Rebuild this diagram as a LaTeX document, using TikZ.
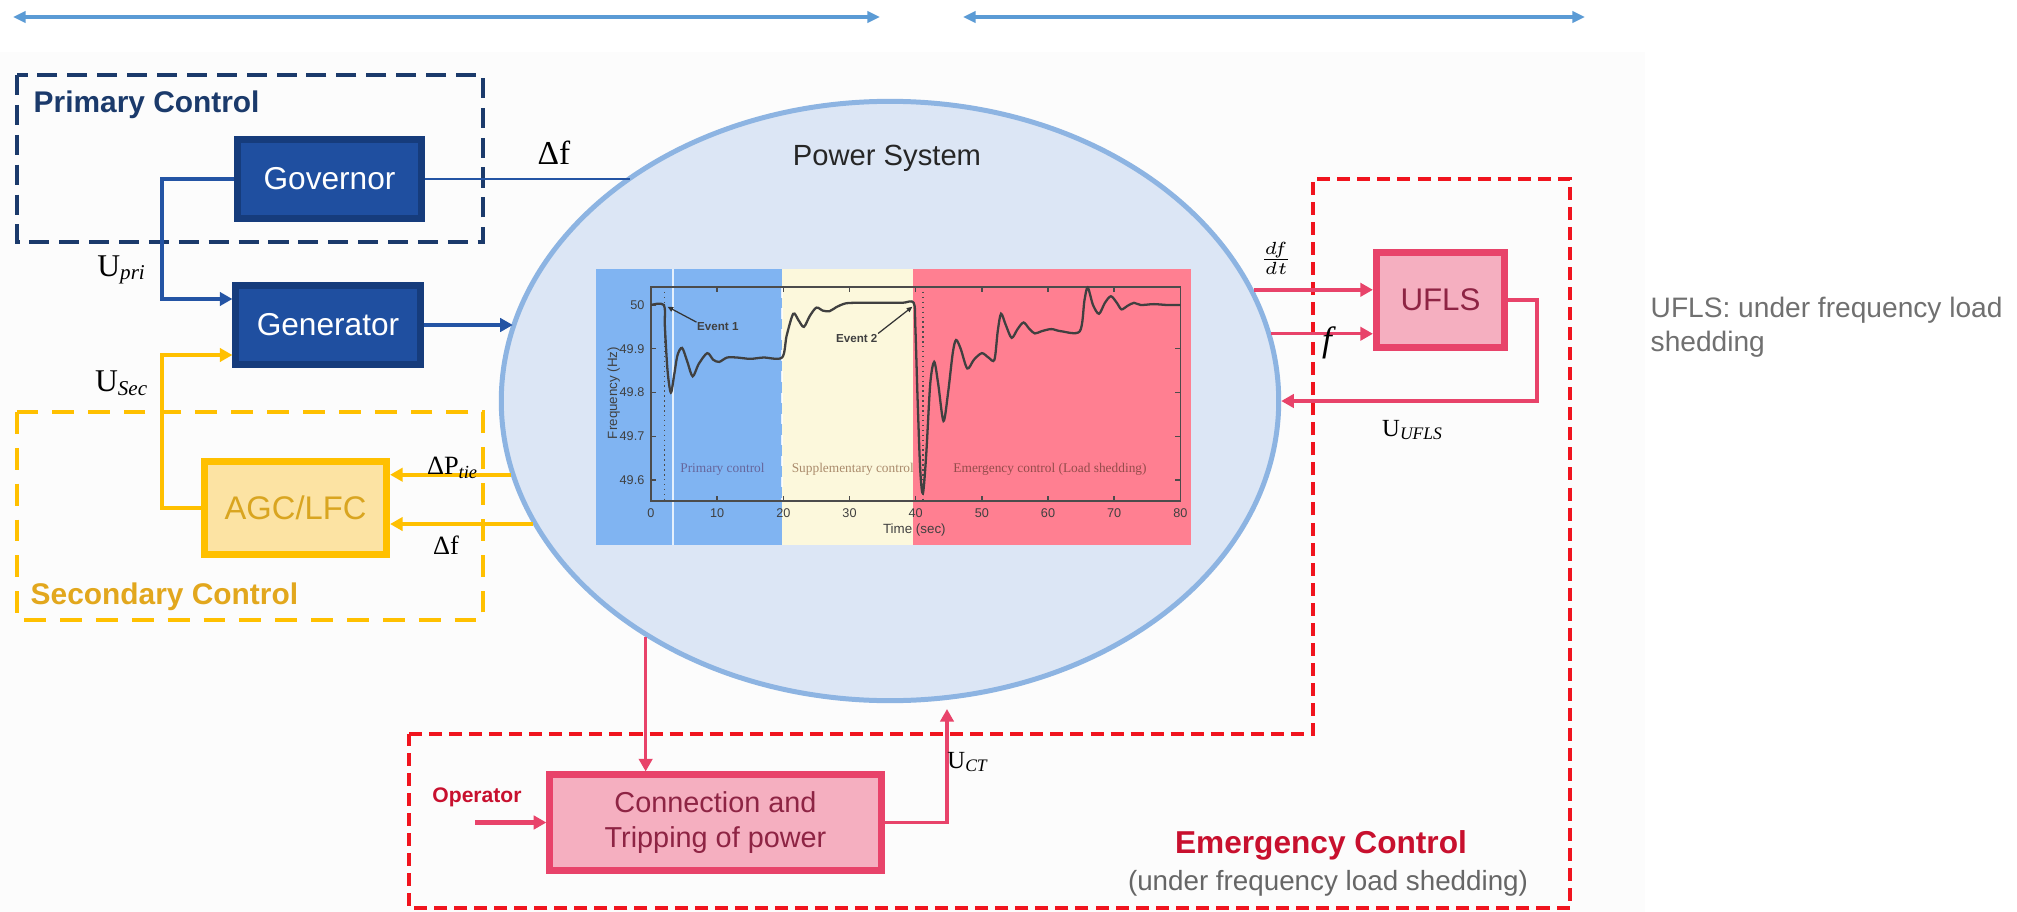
\documentclass[tikz,border=0pt]{standalone}
\usepackage{fontspec}
\setmainfont{Liberation Sans}
\setsansfont{Liberation Sans}
\newfontfamily\tms{Liberation Serif}
\usetikzlibrary{shapes.geometric,arrows.meta,calc}

\definecolor{navy}{HTML}{1B3A6B}
\definecolor{govfill}{HTML}{1F4FA0}
\definecolor{govborder}{HTML}{163C7C}
\definecolor{blueline}{HTML}{2454A4}
\definecolor{topblue}{HTML}{5B9BD5}
\definecolor{ellfill}{HTML}{DCE6F5}
\definecolor{ellborder}{HTML}{8DB4E2}
\definecolor{amber}{HTML}{FFC000}
\definecolor{agcfill}{HTML}{FCE3A3}
\definecolor{agctext}{HTML}{D9A520}
\definecolor{sectext}{HTML}{E2A71D}
\definecolor{alarm}{HTML}{F0141E}
\definecolor{pinkfill}{HTML}{F5AFC0}
\definecolor{pinkborder}{HTML}{E8436A}
\definecolor{pinktext}{HTML}{8E2444}
\definecolor{emtext}{HTML}{C8102E}
\definecolor{notegray}{HTML}{707070}
\definecolor{chblue}{HTML}{80B4F2}
\definecolor{chyel}{HTML}{FCF8DC}
\definecolor{chred}{HTML}{FF7F91}
\definecolor{paper}{HTML}{FCFCFC}

\tikzset{
  tip/.style={-{Triangle[length=3.6pt,width=3.8pt]}},
  toparrow/.style={topblue,line width=0.9pt,{Triangle[length=3.6pt,width=3.2pt]}-{Triangle[length=3.6pt,width=3.2pt]}},
  govblk/.style={draw=govborder,fill=govfill,line width=2pt,inner sep=0pt,
    minimum width=1.84cm,minimum height=0.79cm,text=white,font=\fontsize{9}{11}\selectfont},
  agcblk/.style={draw=amber,fill=agcfill,line width=2pt,inner sep=0pt,
    minimum width=1.82cm,minimum height=0.93cm,text=agctext,font=\fontsize{9.3}{11}\selectfont},
  pinkblk/.style={draw=pinkborder,fill=pinkfill,line width=2pt,inner sep=0pt,
    text=pinktext,font=\fontsize{8.9}{10}\selectfont},
  bluecon/.style={blueline,line width=0.9pt},
  yelcon/.style={amber,line width=0.9pt},
  redcon/.style={pinkborder,line width=0.9pt},
  group/.style={line width=1.4pt},
  sym/.style={inner sep=0pt,font=\tms\fontsize{9}{10}\selectfont},
  chlbl/.style={inner sep=0pt,font=\fontsize{3.6}{4}\selectfont,text=black!75},
  chreg/.style={inner sep=0pt,font=\tms\fontsize{3.8}{4}\selectfont},
  chax/.style={black!70,line width=0.4pt}
}

\begin{document}
\begin{tikzpicture}[x=0.01cm,y=-0.01cm]
\useasboundingbox (0,0) rectangle (2017,912);
\fill[white] (0,0) rectangle (2017,912);
\fill[paper] (0,52) rectangle (1645,912);

% time-scale arrows along the top
\coordinate (a1) at (13,17);  \coordinate (a2) at (880,17);
\coordinate (b1) at (963,17); \coordinate (b2) at (1585,17);
\draw[toparrow] (a1) -- (a2);
\draw[toparrow] (b1) -- (b2);

% the power system
\node[ellipse,draw=ellborder,fill=ellfill,line width=1.42pt,inner sep=0pt,
      minimum width=7.77cm,minimum height=5.99cm] (ps) at (890,401) {};
\node[anchor=base,inner sep=0pt,font=\fontsize{8.3}{10}\selectfont,text=black!85]
      (pstitle) at (887,165) {Power System};

% frequency response chart
\fill[chblue] (596,269) rectangle (782,545);
\fill[chyel]  (782,269) rectangle (913,545);
\fill[chred]  (913,269) rectangle (1191,545);
\draw[white,line width=0.5pt,opacity=0.8] (673,269) -- (673,545);
\draw[white,line width=0.3pt,dashed,opacity=0.8] (782,287) -- (782,501);
\begin{scope}[shift={(651,305)},x=0.066125cm,y=0.04375cm]
  \draw[chax] (0,4.11) rectangle (80,-44.8);
  \foreach \t in {0,10,...,80} {
    \draw[chax] (\t,-44.8) -- ++(0,1.2);
    \draw[chax] (\t,4.11) -- ++(0,-1.2);
    \node[chlbl] at (\t,-47.6) {\t};
  }
  \foreach \d/\l in {0/50,-10/49.9,-20/49.8,-30/49.7,-40/49.6} {
    \draw[chax] (0,\d) -- ++(0.8,0);
    \draw[chax] (80,\d) -- ++(-0.8,0);
    \node[chlbl,anchor=east] at (-0.9,\d) {\l};
  }
  \draw[black!70,line width=0.4pt,densely dotted] (2,4.11) -- (2,-44.8);
  \draw[black!70,line width=0.4pt,densely dotted] (41.1,4.11) -- (41.1,-44.8);
  \draw[black!75,line width=0.65pt] plot[smooth,tension=0.5] coordinates {
    (0,0) (1.95,0) (2.1,-5) (2.5,-15) (3.0,-20) (3.5,-16) (4.0,-11.5) (4.7,-9.8)
    (5.5,-13) (6.3,-16.3) (7.2,-13.5) (8.5,-11) (9.4,-12.5) (10.3,-13) (11.5,-12)
    (13,-12) (15,-12.3) (17,-12) (19.8,-12)
    (20.5,-7) (21.5,-2) (22.3,-3.5) (23.1,-5) (24,-2.5) (25,-0.6) (26,-1.3)
    (27,-1.4) (28,-0.5) (29.5,0.4) (32,0.5) (35,0.5) (38,0.5) (39.7,0.5)
    (39.95,-5) (40.3,-22) (40.7,-38) (41.1,-43) (41.6,-34) (42.2,-18) (42.8,-13)
    (43.4,-18) (44.2,-26.5) (44.9,-20) (45.6,-11) (46.1,-8) (46.8,-10)
    (47.8,-14.5) (48.8,-12.5) (50,-11) (51,-12) (51.9,-12.5) (52.4,-6) (52.9,-2)
    (53.6,-4.5) (54.5,-7.5) (55.4,-5.5) (56.3,-4) (57.2,-5.5) (58,-6.5) (59,-6)
    (60.5,-5.5) (62,-6) (64.8,-6) (65.5,1) (66,4) (66.8,0) (67.7,-2) (68.6,0.5)
    (69.5,2) (70.4,0.5) (71.1,-1) (72,-0.2) (73,0.5) (74,0) (76,0.2) (78,0) (80,0)};
  \node[chlbl,font=\bfseries\fontsize{3.3}{4}\selectfont] (ev1) at (10.1,-5) {Event 1};
  \draw[black!80,line width=0.35pt,-{Triangle[length=1.6pt,width=1.4pt]}]
    (ev1.north west) -- (2.5,-0.4);
  \node[chlbl,font=\bfseries\fontsize{3.3}{4}\selectfont] (ev2) at (31.1,-7.6) {Event 2};
  \draw[black!80,line width=0.35pt,-{Triangle[length=1.6pt,width=1.4pt]}]
    (ev2.north east) -- (39.5,-0.4);
  \node[chreg,text=blue!35!black!60] at (10.8,-37.6) {Primary control};
  \node[chreg,text=brown!70!black!70] at (30.5,-37.6) {Supplementary control};
  \node[chreg,text=red!40!black!70] at (60.3,-37.6) {Emergency control (Load shedding)};
  \node[chlbl,font=\fontsize{3.8}{4}\selectfont] at (39.8,-51.4) {Time (sec)};
  \node[chlbl,font=\fontsize{3.8}{4}\selectfont,rotate=90] at (-5.65,-20.1) {Frequency (Hz)};
\end{scope}

% control groups
\draw[navy,group,dash pattern=on 5.7pt off 2.8pt] (17,75) rectangle (483,242);
\node[anchor=base west,inner sep=0pt,text=navy,font=\bfseries\fontsize{8.5}{10}\selectfont]
      (prim) at (33,113) {Primary Control};
\draw[amber,group,dash pattern=on 6.2pt off 4pt] (17,412) rectangle (483,620);
\node[anchor=base west,inner sep=0pt,text=sectext,font=\bfseries\fontsize{8.5}{10}\selectfont]
      (sec) at (30,604) {Secondary Control};
\draw[alarm,line width=1.15pt,dash pattern=on 3.7pt off 2pt]
      (409,734) -- (1313,734) -- (1313,179) -- (1570,179) -- (1570,908) -- (409,908) -- cycle;
\node[anchor=base,inner sep=0pt,text=emtext,font=\bfseries\fontsize{9}{10}\selectfont]
      (emer) at (1321,853) {Emergency Control};
\node[anchor=base,inner sep=0pt,text=black!60,font=\fontsize{7.9}{10}\selectfont]
      (emersub) at (1328,890) {(under frequency load shedding)};

% blocks
\node[govblk] (gov) at (329.5,179) {Governor};
\node[govblk] (gen) at (328,325) {Generator};
\node[agcblk] (agc) at (295.5,508) {AGC/LFC};
\node[pinkblk,minimum width=1.28cm,minimum height=0.95cm] (ufls) at (1440.5,300) {UFLS};
\node[pinkblk,minimum width=3.31cm,minimum height=0.95cm,align=center,
      font=\fontsize{8.2}{10}\selectfont] (conn) at (715.5,822.5)
      {Connection and\\Tripping of power};

% primary loop
\draw[bluecon,line width=0.6pt] (gov.east) -- (gov.east -| ps.139.8);
\draw[bluecon,tip] (gov.west) -- ++(-72,0) |- ($(gen.west)+(0,-26)$);
\draw[bluecon,line width=1.1pt,tip] (gen.east) -- (gen.east -| ps.168.5);

% secondary loop
\draw[yelcon,tip] (agc.west) -- ++(-39,0) |- ($(gen.west)+(0,30)$);
\draw[yelcon,line width=1.1pt,tip] (ps.191.5) -- (ps.191.5 -| agc.east);
\draw[yelcon,line width=1.1pt,tip] (ps.199.9) -- (ps.199.9 -| agc.east);

% emergency loop
\draw[redcon,line width=1.1pt,tip] (ps.17.7) -- (ps.17.7 -| ufls.west);
\draw[redcon,tip] (ps.10.9) -- (ps.10.9 -| ufls.west);
\draw[redcon,tip] (ufls.east) -- ++(29,0) |- (ps.0.5);
\draw[redcon,tip] (ps.224.4) -- (ps.224.4 |- conn.north);
\coordinate (uct) at (947,709);
\draw[redcon,tip] (conn.east) -| (uct);
\coordinate (opin) at (475,822.5);
\draw[redcon,line width=1.4pt,tip] (opin) -- (conn.west);
\node[anchor=base,inner sep=0pt,text=emtext,font=\bfseries\fontsize{6}{7}\selectfont]
      (oper) at (477,802) {Operator};

% signal labels
\node[sym,anchor=base,font=\tms\fontsize{9.5}{10}\selectfont] (df1) at (554,164) {Δf};
\node[sym] (upri) at (122,270) {U\textsubscript{\itshape pri}};
\node[sym] (usec) at (122,383) {U\textsubscript{\itshape Sec}};
\node[sym,font=\tms\fontsize{7.5}{8}\selectfont] (dptie) at (453,468) {ΔP\textsubscript{\itshape tie}};
\node[sym,font=\tms\fontsize{7.5}{8}\selectfont] (df2) at (446,545) {Δf};
\node[sym,font=\fontsize{7}{8}\selectfont] (dfdt) at (1276,258) {$\frac{df}{dt}$};
\node[sym,font=\tms\itshape\fontsize{10}{11}\selectfont] (fl) at (1327,343) {f};
\node[sym,font=\tms\fontsize{7}{8}\selectfont] (uufls) at (1413,430) {U\textsubscript{\itshape UFLS}};
\node[sym,font=\tms\fontsize{7}{8}\selectfont] (uct-l) at (968,762) {U\textsubscript{\itshape CT}};

% side note
\node[anchor=base west,inner sep=0pt,text=notegray,font=\fontsize{8}{10}\selectfont]
      (note1) at (1650,317) {UFLS: under frequency load};
\node[anchor=base west,inner sep=0pt,text=notegray,font=\fontsize{8}{10}\selectfont]
      (note2) at (1650,351) {shedding};
\end{tikzpicture}
\end{document}
